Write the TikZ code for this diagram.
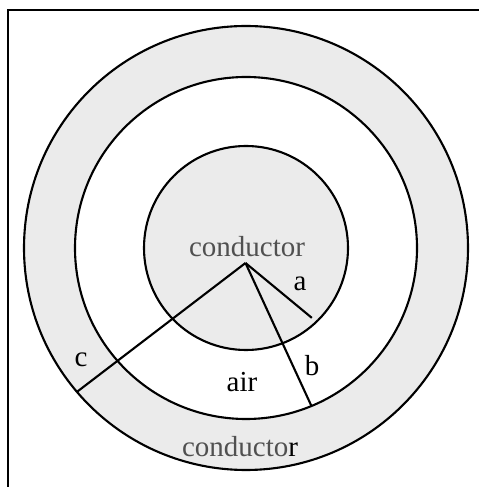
\documentclass[tikz,border=0pt]{standalone}
\usepackage{fontspec}
\setmainfont{Liberation Serif}
\usepackage{tikz}
\usetikzlibrary{calc,positioning}
\definecolor{cond-fill}{HTML}{EBEBEB}
\definecolor{cond-text}{HTML}{505050}

\begin{document}
\begin{tikzpicture}[x=0.02cm, y=0.02cm, line width=1.2pt,
    lbl/.style={font=\fontsize{16.5}{19}\selectfont, inner sep=0pt},
    condlbl/.style={lbl, text=cond-text}]
    \useasboundingbox (0,0) rectangle (479,487);
    % frame (left and top only)
    \draw[line width=1.5pt] (8,0) -- (8,477) -- (479,477);
    \coordinate (C) at (246,239);
    \coordinate (O) at (245.5,224);
    % rings
    \fill[cond-fill] (C) circle (222);
    \fill[white] (C) circle (171);
    \fill[cond-fill] (C) circle (102);
    \draw (C) circle (222);
    \draw (C) circle (171);
    \draw (C) circle (102);
    % radii
    \coordinate (A) at ($(C)+(-46.7:96)$);
    \coordinate (B) at ($(C)+(-67.5:171)$);
    \coordinate (Cc) at ($(C)+(220.4:222)$);
    \draw (O) -- (A);
    \draw (O) -- (B);
    \draw (O) -- (Cc);
    % labels
    \node[condlbl] (inner) at (247,240) {conductor};
    \node[lbl] (la) at (300,203) {a};
    \node[lbl] (lb) at (312,121) {b};
    \node[lbl] (lc) at (81,127) {c};
    \node[lbl] (air) at (242,105) {air};
    \node[lbl] (outer) at (240,40) {{\color{cond-text}conducto}r};
\end{tikzpicture}
\end{document}
